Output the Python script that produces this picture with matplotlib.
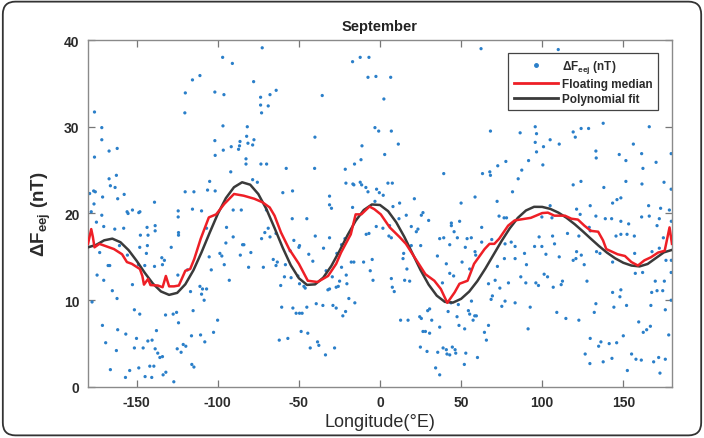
import matplotlib
matplotlib.use("Agg")
import matplotlib.pyplot as plt
from matplotlib.lines import Line2D
from matplotlib.patches import FancyBboxPatch
import numpy as np

plt.rcParams['font.family'] = ['Liberation Sans', 'DejaVu Sans']
plt.rcParams['axes.unicode_minus'] = False
plt.rcParams['mathtext.fontset'] = 'custom'
plt.rcParams['mathtext.rm'] = 'Liberation Sans:bold'
plt.rcParams['mathtext.it'] = 'Liberation Sans:bold'
plt.rcParams['mathtext.bf'] = 'Liberation Sans:bold'

# ---------------- data ----------------
title = "September"
x_label = "Longitude(°E)"
y_label = r"$\Delta$F$_{\mathrm{eej}}$ (nT)"
legend_labels = [r"$\Delta$F$_{\mathrm{eej}}$ (nT)", "Floating median", "Polynomial fit"]
x_ticks = [-150, -100, -50, 0, 50, 100, 150]
y_ticks = [0, 10, 20, 30, 40]

# individual observations (longitude, dF_eej)
scatter_points = [
    (-72.6, 39.1), (-97, 38.0), (-91, 37.3), (-111, 35.9), (-115.6, 35.4), (-77.9, 35.2), (-64, 34.2),
    (-67.8, 33.7), (-101.8, 34.0), (-96.2, 33.7), (-120, 33.9), (-73.6, 33.4), (-73.6, 32.5), (-68.9, 32.4),
    (-73, 31.6), (-120.3, 31.6), (-176, 31.7), (-171.5, 29.9), (-96.8, 30.1), (-81.8, 30.0), (-171.5, 28.5),
    (-101.8, 28.4), (-82.2, 28.9), (-77.7, 28.5), (-86.3, 28.3), (-78.5, 27.9), (-81.4, 28.1), (-91.7, 27.7),
    (-86.6, 27.8), (-96.6, 27.3), (-87.2, 27.4), (-162, 27.5), (-167, 27.2), (-101.6, 26.7), (-176, 26.5),
    (-82.6, 26.3), (-82.6, 25.7), (-73.4, 25.7), (-69.9, 25.7), (-92, 24.8), (-162.5, 24.4), (-167, 24.0),
    (-78.5, 23.9), (-75.6, 23.6), (-105, 23.7), (-166.2, 23.2), (-163.3, 23.0), (-106.3, 22.7), (-101.6, 22.6),
    (-114.7, 22.5), (-120.1, 22.5), (-176.5, 22.6), (-175.5, 22.5), (-179, 22.3), (-157.7, 22.2), (-161.7, 21.7),
    (-171, 21.9), (-176.3, 21.1), (-139, 21.3), (-178, 20.2), (-152.6, 20.4), (-155.9, 20.2), (-148, 20.2),
    (-124.4, 20.3), (-115.6, 20.5), (-110, 20.3), (-90.5, 20.4), (-85.5, 20.4), (-70, 20.4),
    # -60 .. 60, upper half
    (62.3, 39.0), (-16.9, 37.5), (-12.2, 38.0), (-6.8, 38.0), (-7.4, 35.7), (-2.5, 35.8), (6.6, 35.7),
    (-35.6, 33.6), (2.4, 33.2), (-3.1, 29.9), (-0.8, 29.5), (7, 29.5), (-40.1, 28.8), (11.3, 28.0),
    (-11.1, 27.8), (2.9, 26.8), (-11.7, 26.2), (-15.7, 25.7), (-57.8, 25.2), (-40.3, 25.2), (-21.4, 25.1),
    (39.3, 24.6), (-21, 23.5), (-16.7, 23.4), (-16.1, 23.3), (-12.2, 23.6), (-11.3, 23.3), (-8.7, 23.0),
    (-7.4, 22.5), (-2.1, 22.8), (-0.4, 22.4), (2.0, 22.1), (4.9, 23.5), (7.6, 23.5), (-59.9, 22.4),
    (-53.9, 22.6), (-31.1, 22.0), (-31.1, 21.0), (-29.9, 20.6), (-16.9, 20.7), (12.1, 21.2), (21.2, 21.7),
    (50, 21.2), (58.6, 21.9), (8, 20.8), (26.5, 20.1), (-3.1, 21.4),
    # 60 .. 180, upper half
    (109.9, 38.9), (68.1, 29.5), (86.4, 29.3), (95.7, 30.0), (96.5, 29.2), (119.1, 29.4), (120.4, 28.8),
    (124, 29.8), (128.6, 29.8), (137.6, 30.4), (166, 30.0), (95.7, 28.2), (104.9, 28.5), (100.8, 27.7),
    (110.5, 28.0), (156.2, 28.0), (96.5, 27.1), (133.1, 27.2), (133.3, 26.4), (147.5, 26.8), (161.3, 26.9),
    (179.5, 26.9), (151.6, 26.1), (170.2, 25.9), (91.6, 26.1), (77.6, 26.0), (72.6, 25.5), (100.4, 25.6),
    (87.4, 25.0), (63.2, 24.6), (67.7, 24.8), (68.1, 24.4), (162.1, 25.2), (85.2, 24.0), (119.1, 23.3),
    (123.9, 23.7), (138, 23.0), (151.6, 23.7), (161.5, 23.4), (175.1, 23.6), (179.5, 22.8), (81.7, 22.5),
    (72.2, 21.4), (104.9, 20.9), (143.4, 21.2), (146.1, 21.6), (148.5, 21.8), (121.2, 20.5), (129.6, 20.9),
    (165.6, 20.9), (173, 20.6), (178.4, 20.4),
    # -180 .. -60, lower half
    (-171.5, 19.8), (-155.3, 20.0), (-148.7, 20.1), (-124.4, 19.6), (-174.8, 19.0), (-170.3, 18.5),
    (-163.5, 18.2), (-158, 18.3), (-143.6, 18.4), (-138.6, 18.6), (-138.6, 18.0), (-147.7, 17.5), (-143, 17.5),
    (-124.2, 17.8), (-124.2, 17.5), (-106.9, 18.3), (-94.6, 18.4), (-90.5, 17.3), (-84.7, 16.4), (-83.9, 16.4),
    (-79.6, 15.5), (-67.8, 17.3), (-71, 17.8), (-68.9, 18.3), (-95, 16.6), (-98.7, 15.4), (-97.5, 15.1),
    (-86.1, 15.2), (-73, 17.1), (-64.1, 17.7), (-172.8, 15.5), (-160.6, 16.3), (-155.7, 15.2), (-148.1, 16.1),
    (-143.4, 16.3), (-144, 15.4), (-128.7, 16.1), (-134.5, 14.9), (-132.9, 14.6), (-134.1, 14.1), (-139, 13.9),
    (-148.9, 14.1), (-145, 14.0), (-167.6, 14.0), (-166.6, 14.0), (-124.6, 12.9), (-118.7, 13.5), (-105.3, 15.0),
    (-104, 13.5), (-96, 14.1), (-92.9, 12.3), (-81, 13.8), (-71.9, 13.8), (-65.8, 14.7), (-63.3, 14.4),
    (-64.1, 14.0), (-61.2, 11.7), (-60.6, 9.2), (-62.1, 5.4), (-174.4, 12.9), (-170.3, 12.3), (-152.6, 11.8),
    (-165, 11.1), (-162.1, 10.2), (-177.5, 9.8), (-116.8, 11.0), (-111, 11.6), (-109.4, 11.3), (-110, 10.7),
    (-106.9, 11.3), (-108.4, 10.0), (-115.2, 8.8), (-151.4, 8.9), (-148.1, 8.4), (-132.2, 8.3), (-127.5, 8.4),
    (-125.4, 8.6), (-124.2, 7.4), (-100.1, 7.7), (-102.6, 6.3), (-110.6, 6.0), (-108, 5.2), (-116.2, 5.9),
    (-171.1, 7.1), (-161.7, 6.6), (-156.7, 6.1), (-150.1, 5.6), (-143.1, 5.3), (-140.5, 5.4), (-137.8, 6.5),
    (-169.1, 5.1), (-162.5, 4.2), (-151.4, 4.5), (-146, 4.5), (-138.6, 4.4), (-137, 3.9), (-135.7, 3.4),
    (-134.1, 3.5), (-125, 4.4), (-121.3, 4.9), (-119.7, 4.7), (-122.6, 4.0), (-116, 2.6), (-114.7, 2.3),
    (-166.2, 2.0), (-154.3, 1.9), (-148.7, 2.2), (-141.9, 2.4), (-139.4, 2.4), (-144.8, 1.2), (-140.7, 1.1),
    (-156.9, 1.1), (-133.7, 1.4), (-132, 1.7), (-127.1, 0.6),
    # -60 .. 60, lower half
    (-54.1, 19.4), (-45.1, 19.4), (-39.9, 17.4), (-31.1, 17.2), (-53.1, 16.9), (-49.6, 16.3), (-50, 16.1),
    (-34.8, 16.0), (-55.4, 15.7), (-43.9, 15.3), (-23.7, 16.4), (-21.6, 17.1), (-26.6, 15.4), (-41.4, 14.5),
    (-23.7, 13.8), (-33.2, 13.4), (-58.3, 14.1), (-54.8, 12.6), (-58.9, 12.7), (-49.6, 11.9), (-46.9, 11.6),
    (-46.1, 11.4), (-50.6, 12.8), (-29.4, 12.7), (-20.8, 12.9), (-24.9, 12.2), (-32.1, 11.2), (-31.1, 11.3),
    (-27, 11.5), (-25.7, 11.6), (-29, 9.4), (-27, 9.1), (-35.2, 9.4), (-39.3, 9.6), (-20.4, 11.9),
    (-17.7, 14.4), (-16.1, 14.4), (-10.1, 14.4), (-4.8, 14.7), (-6, 13.4), (-8.5, 17.6), (-6.8, 17.7),
    (-2.3, 18.5), (1.8, 18.3), (5.9, 18.6), (5.5, 17.4), (7, 17.2), (11.7, 19.4), (16.2, 19.8), (19.3, 18.5),
    (22.4, 17.9), (23.4, 18.2), (25.5, 19.8), (30, 19.2), (14.6, 15.4), (14.2, 14.8), (19.3, 16.3),
    (25.1, 16.3), (16.6, 13.6), (15.2, 12.3), (18.3, 12.2), (7, 12.5), (7.6, 11.5), (8.8, 11.0), (-4.3, 12.3),
    (-19.2, 10.2), (-15.5, 9.7), (-21.2, 8.7), (-22.9, 8.2), (-53.7, 9.1), (-51.7, 8.5), (-49.6, 8.5),
    (-48, 8.5), (-45.1, 9.2), (-56.8, 5.6), (-48.6, 6.4), (-44.5, 6.2), (-43, 4.5), (-38.5, 5.2), (-37.7, 4.8),
    (-33.6, 3.7), (-28, 4.5), (12.7, 7.7), (17.3, 7.7), (24.5, 8.1), (25.5, 7.9), (29.4, 8.8), (30.6, 9.0),
    (31.9, 7.7), (26.5, 6.4), (28, 6.4), (30.6, 6.2), (24.9, 4.6), (29, 4.1), (35.6, 4.0), (38.9, 4.5),
    (40.9, 4.3), (41.3, 3.8), (43, 3.7), (44.6, 4.6), (46.3, 4.3), (46.7, 3.9), (34.3, 2.2), (36.8, 1.4),
    (52.9, 3.9), (52, 2.6), (60.1, 3.4), (36.8, 6.9), (47.5, 8.1), (48.7, 7.1), (42, 8.7), (52.2, 6.7),
    (54.5, 8.8), (55.3, 8.4), (57.4, 7.7), (58.4, 8.2), (59.4, 8.2), (43.8, 9.7), (48.3, 9.5), (56.4, 9.9),
    (38.5, 12.0), (43, 13.1), (45.4, 12.8), (40.9, 14.2), (35.4, 15.1), (36.8, 17.1), (39.3, 17.2), (43, 16.4),
    (47.7, 17.2), (44, 18.6), (44, 18.9), (45.7, 17.9), (49.1, 19.1), (52.6, 16.1), (56.3, 17.2), (53.7, 17.1),
    (50.6, 14.4), (55.3, 13.6), (59, 15.2), (58.6, 15.6),
    # 60 .. 180, lower half
    (73.4, 19.7), (76.5, 19.5), (78, 19.5), (62.7, 18.4), (99.8, 19.6), (106, 19.5), (123.4, 19.9),
    (133.1, 19.7), (138.9, 19.4), (142.8, 19.4), (148.5, 19.1), (153.3, 18.8), (161.3, 19.6), (166, 19.7),
    (172.2, 19.4), (170.8, 18.6), (179.6, 19.1), (68.9, 17), (77.1, 16.5), (80.9, 16.7), (83.3, 16.2),
    (98.1, 17.3), (106.4, 17.4), (107.6, 16.5), (95.3, 16.2), (99.8, 16.2), (89.1, 15.4), (115.6, 17.7),
    (122.6, 17.4), (129, 18.4), (129.6, 18), (145.5, 17.4), (148.5, 17.6), (152.3, 17.6), (156.8, 17.4),
    (174.7, 17.2), (62.7, 16.7), (76.7, 14.8), (83.3, 14.8), (90.3, 14.1), (102.3, 15.3), (110.5, 15),
    (119.1, 14.6), (120.8, 14.8), (121.2, 15.6), (124.1, 15.2), (125.9, 14.1), (133.5, 15.6), (135.6, 15.4),
    (143.4, 14.4), (157, 15.4), (167.7, 15.6), (172.2, 16), (176.3, 14.6), (179.6, 14.6), (157.4, 13.1),
    (161.9, 13.2), (179.5, 13.2), (72.4, 13.9), (86.8, 12.7), (89.9, 12), (101.2, 13.0), (103.3, 12.7),
    (96.1, 12.0), (97.7, 11.7), (112.5, 12.2), (111.7, 11.8), (106.8, 11.5), (127.6, 12.2), (66.9, 11.9),
    (71, 12.3), (73.9, 11.4), (79.2, 12.0), (69.3, 10.5), (68.5, 10.1), (77.1, 9.9), (75.1, 9.3), (83.3, 9.7),
    (92.6, 9.2), (143.4, 10.9), (148.5, 11.2), (147.9, 10.4), (152, 9.4), (133.1, 9.6), (132.1, 8.6),
    (144.2, 9.2), (167.5, 10.9), (170.8, 11.1), (174.3, 11.1), (169.7, 12.2), (175.3, 12.2), (167, 9.4),
    (175.9, 8.9), (179.5, 10), (109, 8.6), (114.6, 7.9), (122.6, 7.7), (159.5, 7.5), (162.3, 6.3),
    (164.4, 6.6), (166.7, 7), (178, 6), (66.9, 7.1), (64.4, 6.3), (65.6, 5.4), (91.3, 6.7), (129.6, 5.6),
    (136.2, 5.2), (134.8, 4.7), (141.3, 5.0), (145.9, 5.1), (150, 5.9), (126.5, 3.8), (129.4, 2.7),
    (137.6, 2.9), (143, 3.3), (155.1, 3.8), (157.8, 3.2), (161.1, 3.1), (168.7, 2.9), (171.8, 3.4),
    (175.9, 3.2), (152.5, 1.9), (172.6, 1.6),
]

# floating median
median_lon = [-180, -178, -177, -176, -173, -170, -164, -159, -156, -153, -148, -146.5, -145.5, -143,
              -141.5, -137, -134, -132, -130, -127, -124, -120, -117, -114.5, -110.5, -105.5, -101, -96,
              -90, -84, -77.5, -72.5, -68, -65, -61, -56, -50, -44.5, -38.5, -32, -27, -24, -18, -15,
              -11.5, -6.5, -3.5, 0.5, 6, 12, 16, 22, 28, 33.5, 37.5, 41.5, 46, 49, 54, 58, 64.5, 67.5,
              70.5, 73.5, 79, 83, 93, 100, 103.5, 107.5, 114, 118, 122, 126, 130, 134.5, 137.5, 139.5,
              146.5, 151, 155, 159, 163, 167, 171.5, 175.5, 178.5, 180]
median_val = [16.5, 18.2, 17.3, 16.1, 16.5, 16.3, 15.9, 15.3, 14.4, 14.2, 13.6, 12.8, 11.8, 12.45,
              11.75, 11.7, 11.5, 12.8, 11.6, 11.6, 11.7, 13.4, 13.6, 14.75, 17.1, 19.55, 19.9, 21.1,
              22.25, 22.05, 21.7, 21.3, 20.7, 19.75, 17.8, 15.9, 14.2, 12.25, 12.1, 12.8, 14.2, 15.5,
              17.6, 19.9, 19.9, 20.8, 20.5, 19.9, 18.4, 17.3, 16.5, 14.75, 13.0, 12.25, 11.3, 9.7, 10.9,
              11.9, 12.25, 14.2, 15.9, 16.5, 16.5, 17.1, 18.6, 19.2, 19.5, 20.05, 20.1, 19.75, 19.75,
              19.4, 19.3, 18.6, 18.0, 17.9, 16.9, 15.9, 15.3, 15.1, 14.4, 14.0, 14.6, 14.95, 15.5, 15.7,
              18.4, 16.5]

# polynomial fit, sampled every 5 degrees
poly_lon = list(range(-180, 181, 5))
poly_val = [16.1, 16.38, 16.91, 17.1, 16.69, 15.78, 14.54, 13.16, 11.92, 11.01, 10.62, 10.85, 11.84,
            13.46, 15.53, 17.78, 19.95, 21.77, 23.03, 23.6, 23.32, 22.24, 20.5, 18.33, 16.07, 14.04,
            12.54, 11.77, 11.83, 12.6, 13.95, 15.67, 17.5, 19.16, 20.4, 21.04, 20.98, 20.27, 18.99,
            17.31, 15.4, 13.48, 11.8, 10.53, 9.81, 9.73, 10.16, 11.0, 12.2, 13.66, 15.25, 16.84, 18.29,
            19.5, 20.35, 20.77, 20.76, 20.53, 20.1, 19.5, 18.77, 17.95, 17.09, 16.25, 15.48, 14.83,
            14.32, 14.0, 13.9, 14.18, 14.85, 15.52, 15.8]

# ---------------- plot ----------------
fig = plt.figure(figsize=(7.04, 4.39), dpi=100)
ax = fig.add_axes([0.125, 0.1162, 0.8295, 0.7904])

blue = '#2a7fc9'
red = '#ee1f26'
dark = '#3a3a3a'

sx = [p[0] for p in scatter_points]
sy = [p[1] for p in scatter_points]
ax.scatter(sx, sy, s=5.5, color=blue, edgecolors='none', zorder=2)
ax.plot(poly_lon, poly_val, color=dark, lw=1.8, zorder=3)
ax.plot(median_lon, median_val, color=red, lw=1.8, zorder=4)

ax.set_xlim(-180, 180)
ax.set_ylim(0, 40)
ax.set_xticks(x_ticks)
ax.set_yticks(y_ticks)
ax.tick_params(direction='in', top=True, right=True, length=5, width=0.9, color='#777777',
               labelsize=10, labelcolor='#2b2b2b', pad=6)
for lab in ax.get_xticklabels() + ax.get_yticklabels():
    lab.set_fontweight('bold')
for sp in ax.spines.values():
    sp.set_color('#8a8a8a')
    sp.set_linewidth(1.0)

ax.set_title(title, fontsize=10.5, fontweight='bold', color='#222222', pad=7)
ax.set_xlabel(x_label, fontsize=13, color='#2b2b2b', labelpad=3)
ax.set_ylabel(y_label, fontsize=13.5, fontweight='bold', color='#2b2b2b', labelpad=8)

handles = [Line2D([], [], marker='.', color=blue, linestyle='none', markersize=5),
           Line2D([], [], color=red, lw=2),
           Line2D([], [], color=dark, lw=2)]
leg = ax.legend(handles, legend_labels, loc='upper right', bbox_to_anchor=(0.976, 0.963),
                borderaxespad=0, fancybox=False, framealpha=1, edgecolor='#444444',
                prop={'size': 8.5, 'weight': 'bold'}, handlelength=3.8, handletextpad=0.3,
                labelspacing=0.25, borderpad=0.45)
leg.get_frame().set_linewidth(0.9)
for t in leg.get_texts():
    t.set_color('#2b2b2b')

frame = FancyBboxPatch((0.004, 0.006), 0.992, 0.988, boxstyle='round,pad=0,rounding_size=0.018',
                       transform=fig.transFigure, fill=False, edgecolor='#333333', lw=1.3,
                       mutation_aspect=704 / 439)
fig.patches.append(frame)

fig.savefig('out.png', dpi=100)
